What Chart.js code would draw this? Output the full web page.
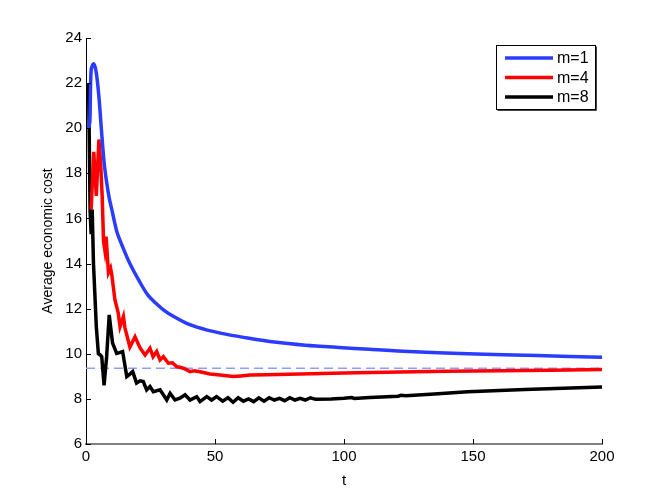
<!DOCTYPE html>
<html>
<head>
<meta charset="utf-8">
<script src="https://cdn.jsdelivr.net/npm/chart.js@4/dist/chart.umd.min.js"></script>
<style>
  html, body { margin: 0; padding: 0; background: #fff; }
  #wrap { width: 664px; height: 500px; }
</style>
</head>
<body>
<div id="wrap"><canvas id="costChart"></canvas></div>
<script>
// 読み取った値（t, 平均コスト）
const tM1 = [1, 1.5, 2, 3, 4, 5, 6, 7, 8, 9, 10, 12, 14, 17, 21, 24, 27, 30, 34, 40, 47, 55, 60, 73, 85, 98, 110, 125, 148, 175, 200];
const costM1 = [20.0, 20.3, 22.6, 22.85, 22.45, 21.4, 19.9, 18.5, 17.6, 16.9, 16.4, 15.4, 14.8, 14.0, 13.15, 12.6, 12.25, 11.95, 11.65, 11.3, 11.05, 10.85, 10.75, 10.52, 10.38, 10.28, 10.2, 10.1, 10.0, 9.92, 9.85];

const tM4 = [2, 3, 4, 5, 5.7, 6.3, 6.8, 7.3, 7.8, 8.7, 9.5, 10, 11.2, 12.5, 13.2, 14.5, 15.1, 17, 19, 21, 22.9, 24.8, 26, 27.4, 28.7, 30, 31.9, 33.5, 35.1, 36.4, 38, 40.3, 42, 44.2, 48, 52, 57, 60, 63.6, 70, 83, 100, 121.7, 140, 160.5, 180, 200];
const costM4 = [16.4, 18.95, 17.0, 19.5, 18.4, 16.9, 15.0, 14.6, 15.2, 13.6, 13.8, 13.5, 12.4, 11.8, 11.2, 11.65, 11.15, 10.3, 10.75, 10.25, 9.95, 10.25, 9.87, 10.1, 9.73, 9.87, 9.58, 9.6, 9.43, 9.4, 9.35, 9.21, 9.25, 9.2, 9.1, 9.06, 8.99, 9.02, 9.06, 9.07, 9.1, 9.15, 9.19, 9.22, 9.25, 9.27, 9.3];

const tM8 = [1, 1.6, 2.0, 2.4, 2.9, 4, 4.8, 5.5, 6.1, 7, 8, 9, 10.3, 11.9, 13, 14.2, 15.8, 17, 18.1, 19.6, 21, 22.2, 23.5, 24.8, 26.1, 28.7, 31.3, 32.6, 34.5, 36.4, 38.4, 40.3, 42.9, 44.2, 46.8, 48.7, 50.6, 53, 55, 57, 59, 61, 63, 65, 67, 69, 71, 73, 75, 77, 79, 81, 83, 85, 87, 89, 95, 100, 103, 104, 110, 121, 122, 124, 135, 148, 170, 200];
const costM8 = [22.0, 16.3, 15.3, 16.4, 14.0, 11.2, 10.0, 9.95, 9.87, 8.6, 9.87, 11.72, 10.47, 10.02, 10.05, 10.1, 8.99, 9.1, 9.21, 8.7, 8.8, 8.77, 8.4, 8.55, 8.32, 8.4, 7.95, 8.25, 7.95, 8.03, 8.18, 7.95, 8.1, 7.88, 8.1, 7.95, 8.1, 7.9, 8.05, 7.85, 8.05, 7.9, 8.0, 7.88, 8.05, 7.9, 8.05, 7.95, 8.02, 7.92, 8.05, 7.95, 8.02, 7.95, 8.05, 7.98, 8.0, 8.03, 8.06, 8.02, 8.06, 8.12, 8.16, 8.14, 8.22, 8.32, 8.42, 8.53];

// 水平の参照線
const refT = [0, 200];
const refCost = [9.36, 9.36];

const xTicks = [0, 50, 100, 150, 200];
const yTicks = [6, 8, 10, 12, 14, 16, 18, 20, 22, 24];

const FONT = 'Liberation Sans, Arial, Helvetica, sans-serif';

function toPoints(xs, ys) {
  return xs.map((x, i) => ({ x: x, y: ys[i] }));
}

// 内向きの目盛り線と凡例を描く
const matlabAxes = {
  id: 'matlabAxes',
  afterDatasetsDraw(chart) {
    const ctx = chart.ctx;
    const xs = chart.scales.x;
    const ys = chart.scales.y;
    const area = chart.chartArea;
    ctx.save();
    ctx.strokeStyle = '#000';
    ctx.lineWidth = 1;
    ctx.beginPath();
    xTicks.forEach(v => {
      const px = Math.round(xs.getPixelForValue(v)) + 0.5;
      ctx.moveTo(px, area.bottom);
      ctx.lineTo(px, area.bottom - 5);
    });
    yTicks.forEach(v => {
      const py = Math.round(ys.getPixelForValue(v)) + 0.5;
      ctx.moveTo(area.left, py);
      ctx.lineTo(area.left + 5, py);
    });
    ctx.stroke();

    // 凡例
    const bx = 496, by = 45, bw = 99, bh = 64;
    ctx.fillStyle = '#fff';
    ctx.fillRect(bx, by, bw, bh);
    ctx.strokeStyle = '#000';
    ctx.lineWidth = 1;
    ctx.strokeRect(bx + 0.5, by + 0.5, bw, bh);
    ctx.strokeStyle = '#444';
    ctx.beginPath();
    ctx.moveTo(bx + 1.5, by + bh + 1.5);
    ctx.lineTo(bx + bw + 1.5, by + bh + 1.5);
    ctx.lineTo(bx + bw + 1.5, by + 1.5);
    ctx.stroke();
    const items = chart.data.datasets.filter(d => d.label);
    ctx.font = '16px ' + FONT;
    ctx.textBaseline = 'middle';
    ctx.textAlign = 'left';
    items.forEach((d, i) => {
      const y = 58 + i * 19.5;
      ctx.strokeStyle = d.borderColor;
      ctx.lineWidth = 3.5;
      ctx.beginPath();
      ctx.moveTo(505, y);
      ctx.lineTo(553, y);
      ctx.stroke();
      ctx.fillStyle = '#000';
      ctx.fillText(d.label, 557, y + 1);
    });
    ctx.restore();
  }
};

const ctx = document.getElementById('costChart').getContext('2d');
new Chart(ctx, {
  type: 'line',
  data: {
    datasets: [
      { label: 'm=1', data: toPoints(tM1, costM1), borderColor: '#2a3cff', borderWidth: 3.5, pointRadius: 0, tension: 0.3 },
      { label: 'm=4', data: toPoints(tM4, costM4), borderColor: '#ff0000', borderWidth: 3.5, pointRadius: 0, tension: 0 },
      { label: 'm=8', data: toPoints(tM8, costM8), borderColor: '#000000', borderWidth: 3.5, pointRadius: 0, tension: 0 },
      { label: '', data: toPoints(refT, refCost), borderColor: '#8e9dff', borderWidth: 1.5, borderDash: [9, 5], pointRadius: 0 }
    ]
  },
  options: {
    responsive: true,
    maintainAspectRatio: false,
    animation: false,
    layout: { padding: { top: 38, right: 62, left: 0, bottom: 0 } },
    plugins: { legend: { display: false }, tooltip: { enabled: false } },
    scales: {
      x: {
        type: 'linear', min: 0, max: 200,
        afterFit: s => { s.height = 56; },
        afterBuildTicks: s => { s.ticks = xTicks.map(v => ({ value: v })); },
        grid: { display: false },
        border: { display: true, color: '#808080', width: 2 },
        ticks: { color: '#000', font: { family: FONT, size: 15 }, padding: -4, maxRotation: 0 },
        title: { display: true, text: 't', color: '#000', font: { family: FONT, size: 15 }, padding: { top: 0, bottom: 10 } }
      },
      y: {
        min: 6, max: 24,
        afterFit: s => { s.width = 86; },
        afterBuildTicks: s => { s.ticks = yTicks.map(v => ({ value: v })); },
        grid: { display: false },
        border: { display: true, color: '#000', width: 1 },
        ticks: { color: '#000', font: { family: FONT, size: 15 }, padding: -4 },
        title: { display: true, text: 'Average economic cost', color: '#000', font: { family: FONT, size: 14 }, padding: { top: 40, bottom: 0 } }
      }
    }
  },
  plugins: [matlabAxes]
});
</script>
</body>
</html>
